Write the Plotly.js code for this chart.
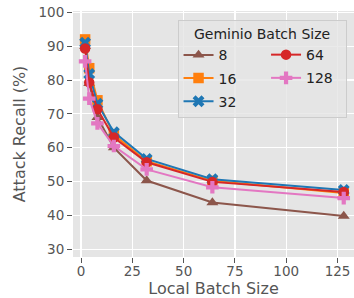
<!DOCTYPE html>
<html><head><meta charset="utf-8">
<script src="https://cdn.plot.ly/plotly-3.0.1.min.js"></script>
<style>html,body{margin:0;padding:0;background:#fff}#chart{width:354px;height:298px}</style>
</head><body><div id="chart"></div>
<script>
const localBatch = [2, 4, 8, 16, 32, 64, 128];
const seriesNames = ["8", "16", "32", "64", "128"];
const recall8   = [90.0, 79.0, 69.0, 60.0, 50.3, 43.8, 39.8];
const recall16  = [92.0, 83.5, 74.0, 63.8, 56.0, 50.2, 46.6];
const recall32  = [91.0, 81.8, 73.0, 64.6, 56.7, 50.7, 47.5];
const recall64  = [89.3, 79.3, 71.4, 63.0, 55.7, 49.9, 46.9];
const recall128 = [85.5, 74.5, 67.2, 60.5, 53.6, 48.3, 45.1];
const allRecall = [recall8, recall16, recall32, recall64, recall128];

const colors = ["#8c564b", "#ff7f0e", "#1f77b4", "#d62728", "#e377c2"];
const symbols = ["triangle-up", "square", "x", "circle", "cross"];
const legendOf = ["legend", "legend", "legend", "legend2", "legend2"];

const traces = seriesNames.map((n, i) => ({
  x: localBatch, y: allRecall[i], name: n, type: "scatter", mode: "lines+markers",
  line: {color: colors[i], width: 2},
  marker: {symbol: symbols[i], size: 10.5, color: colors[i]},
  legend: legendOf[i], legendgroup: "g" + n
}));

const pad = "\u00a0\u00a0\u00a0";
const layout = {
  width: 354, height: 298,
  margin: {l: 73, r: 0, t: 11, b: 41, autoexpand: false},
  paper_bgcolor: "#ffffff", plot_bgcolor: "#E5E5E5",
  font: {family: "DejaVu Sans", color: "#555555"},
  xaxis: {
    range: [-3.9, 133.0], tickvals: [0, 25, 50, 75, 100, 125],
    showgrid: true, gridcolor: "#ffffff", gridwidth: 1.2, zeroline: false,
    ticks: "outside", ticklen: 5, tickcolor: "#555555", tickwidth: 1,
    ticklabelstandoff: -3,
    tickfont: {size: 13.5, color: "#555555"},
    title: {text: "Local Batch Size", font: {size: 16, color: "#555555"}, standoff: 4}
  },
  yaxis: {
    range: [27.7, 100.4], tickvals: [30, 40, 50, 60, 70, 80, 90, 100],
    showgrid: true, gridcolor: "#ffffff", gridwidth: 1.2, zeroline: false,
    ticks: "outside", ticklen: 5, tickcolor: "#555555", tickwidth: 1,
    tickfont: {size: 13.5, color: "#555555"},
    title: {text: "Attack Recall (%)", font: {size: 16, color: "#555555"}, standoff: 8}
  },
  showlegend: true,
  legend: {
    x: 0.372, y: 0.963, xanchor: "left", yanchor: "top",
    orientation: "v", traceorder: "grouped", tracegroupgap: 2,
    bgcolor: "rgba(229,229,229,0.8)", bordercolor: "#cccccc", borderwidth: 1,
    font: {size: 14, color: "#222222"},
    title: {text: pad + "Geminio Batch Size" + pad, side: "top center", font: {size: 14, color: "#222222"}}
  },
  legend2: {
    x: 0.687, y: 0.886, xanchor: "left", yanchor: "top",
    orientation: "v", traceorder: "grouped", tracegroupgap: 2,
    bgcolor: "rgba(0,0,0,0)", borderwidth: 0,
    font: {size: 14, color: "#222222"}
  }
};
Plotly.newPlot("chart", traces, layout, {displayModeBar: false, staticPlot: true});
</script></body></html>
